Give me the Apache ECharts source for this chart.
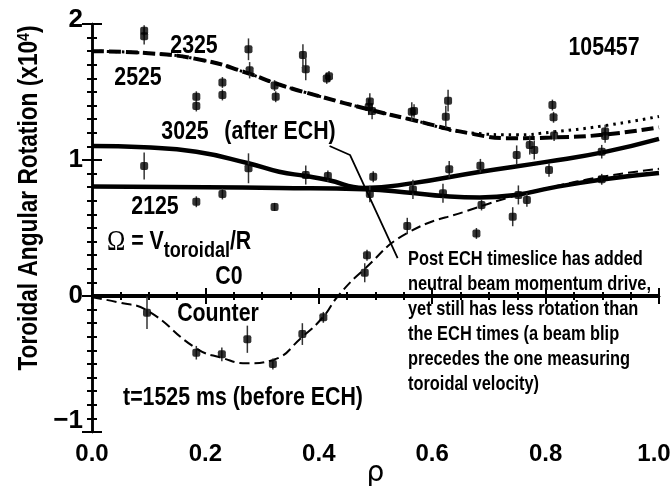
<!DOCTYPE html>
<html>
<head>
<meta charset="utf-8">
<script src="https://cdn.jsdelivr.net/npm/echarts@6/dist/echarts.min.js"></script>
<style>
  html, body { margin: 0; padding: 0; background: #fff; }
  #chart { width: 670px; height: 486px; }
</style>
</head>
<body>
<div id="chart"></div>
<script>
// measured points: [rho, omega (x10^4), error]
const pts2325_2525 = [
  [0.092, 1.95, 0.04], [0.092, 1.91, 0.06],
  [0.184, 1.465, 0.04], [0.184, 1.397, 0.04],
  [0.23, 1.57, 0.04], [0.23, 1.478, 0.04],
  [0.276, 1.814, 0.08], [0.278, 1.66, 0.06],
  [0.322, 1.547, 0.04], [0.324, 1.465, 0.04],
  [0.372, 1.772, 0.08], [0.377, 1.667, 0.08],
  [0.414, 1.60, 0.04], [0.418, 1.615, 0.04],
  [0.49, 1.43, 0.06], [0.488, 1.39, 0.06], [0.494, 1.36, 0.06],
  [0.564, 1.355, 0.07], [0.568, 1.36, 0.05],
  [0.628, 1.436, 0.08], [0.624, 1.318, 0.08],
  [0.772, 1.11, 0.07], [0.78, 1.074, 0.07],
  [0.812, 1.404, 0.04], [0.814, 1.314, 0.04], [0.815, 1.18, 0.04],
  [0.905, 1.21, 0.05], [0.905, 1.176, 0.05]
];
const pts3025 = [
  [0.092, 0.956, 0.1], [0.276, 0.939, 0.11], [0.377, 0.89, 0.07],
  [0.416, 0.882, 0.04], [0.496, 0.877, 0.04], [0.63, 0.932, 0.06],
  [0.685, 0.958, 0.05], [0.749, 1.037, 0.07], [0.806, 0.926, 0.05],
  [0.899, 1.061, 0.05]
];
const pts2125 = [
  [0.184, 0.693, 0.04], [0.23, 0.75, 0.04], [0.322, 0.655, 0.03],
  [0.49, 0.75, 0.06], [0.566, 0.784, 0.07], [0.619, 0.755, 0.07],
  [0.687, 0.669, 0.04], [0.752, 0.743, 0.07], [0.767, 0.706, 0.05],
  [0.899, 0.858, 0.04]
];
const pts1525 = [
  [0.097, -0.123, 0.12], [0.184, -0.417, 0.05], [0.229, -0.429, 0.05],
  [0.274, -0.318, 0.1], [0.319, -0.5, 0.04], [0.371, -0.28, 0.08],
  [0.408, -0.157, 0.04], [0.481, 0.171, 0.07], [0.485, 0.30, 0.04],
  [0.556, 0.515, 0.06], [0.678, 0.46, 0.04], [0.742, 0.583, 0.07]
];

// fitted profiles
const fit2525 = [
  [0, 1.80], [0.1, 1.785], [0.2, 1.73], [0.27, 1.645], [0.33, 1.555],
  [0.4, 1.47], [0.49, 1.37], [0.566, 1.294], [0.666, 1.196], [0.743, 1.16],
  [0.81, 1.165], [0.9, 1.185], [1.0, 1.24]
];
const fit2325 = [
  [0, 1.80], [0.1, 1.785], [0.2, 1.73], [0.27, 1.645], [0.33, 1.555],
  [0.4, 1.47], [0.49, 1.37], [0.566, 1.294], [0.666, 1.20], [0.75, 1.185],
  [0.81, 1.205], [0.9, 1.25], [1.0, 1.32]
];
const fit3025 = [
  [0, 1.103], [0.092, 1.093], [0.184, 1.06], [0.276, 0.976], [0.33, 0.914],
  [0.377, 0.882], [0.416, 0.853], [0.48, 0.795], [0.566, 0.83], [0.68, 0.91],
  [0.804, 0.988], [0.905, 1.06], [1.0, 1.155]
];
const fit2125 = [
  [0, 0.805], [0.2, 0.80], [0.33, 0.795], [0.48, 0.785], [0.566, 0.757],
  [0.62, 0.735], [0.684, 0.725], [0.75, 0.745], [0.81, 0.795], [0.9, 0.857],
  [1.0, 0.905]
];
const fit1525 = [
  [0, -0.01], [0.05, -0.05], [0.097, -0.105], [0.184, -0.385], [0.229, -0.455],
  [0.274, -0.495], [0.319, -0.47], [0.371, -0.30], [0.408, -0.152], [0.434, 0],
  [0.481, 0.20], [0.555, 0.46], [0.666, 0.632], [0.752, 0.743], [0.81, 0.80],
  [0.9, 0.877], [1.0, 0.935]
];
const zeroLine = [[0, 0], [1, 0]];
const pointerLine = [[0.419, 1.103], [0.455, 1.037], [0.539, 0.279]];

const noteLines = [
  "Post ECH timeslice has added",
  "neutral beam momentum drive,",
  "yet still has less rotation than",
  "the ECH times (a beam blip",
  "precedes the one measuring",
  "toroidal velocity)"
];

const FONT = '"Liberation Sans", Arial, sans-serif';
const NARROW = 0.82; // no narrow face installed, squeeze instead

const chart = echarts.init(document.getElementById("chart"));

function errBar(params, api) {
  const x = api.value(0);
  const y = api.value(1);
  const e = api.value(2);
  const p1 = api.coord([x, y + e]);
  const p2 = api.coord([x, y - e]);
  return {
    type: "line",
    shape: { x1: p1[0], y1: p1[1], x2: p2[0], y2: p2[1] },
    style: { stroke: "#333", lineWidth: 1.5 }
  };
}

function pointSeries(data) {
  return [
    {
      type: "custom",
      renderItem: errBar,
      data: data,
      encode: { x: 0, y: 1 },
      z: 3
    },
    {
      type: "scatter",
      data: data.map((d) => [d[0], d[1]]),
      symbol: "roundRect",
      symbolSize: 8,
      itemStyle: { color: "#000" },
      z: 4
    }
  ];
}

function curve(data, width, type) {
  return {
    type: "line",
    data: data,
    smooth: 0.5,
    showSymbol: false,
    lineStyle: { color: "#000", width: width, type: type },
    z: 2
  };
}

const baseAxisLine = { show: true, lineStyle: { color: "#000", width: 2.5 } };
const tickStyle = { color: "#000", width: 2 };

function textItem(txt, x, y, extra, sx) {
  return {
    type: "text",
    x: x,
    y: y,
    scaleX: sx || NARROW,
    z: 10,
    style: Object.assign(
      {
        text: txt,
        fontFamily: FONT,
        fontWeight: "bold",
        fontSize: 26,
        fill: "#000",
        align: "center",
        verticalAlign: "middle"
      },
      extra || {}
    )
  };
}

const option = {
  animation: false,
  grid: { left: 92, right: 11, top: 24, bottom: 54, outerBoundsMode: "none" },
  xAxis: [
    {
      type: "value",
      min: 0,
      max: 1,
      interval: 0.2,
      position: "bottom",
      axisLine: baseAxisLine,
      axisTick: { inside: true, length: 8, lineStyle: tickStyle },
      minorTick: { show: true, splitNumber: 4, length: 4, lineStyle: tickStyle },
      splitLine: { show: false },
      axisLabel: {
        color: "#000",
        fontFamily: FONT,
        fontWeight: "bold",
        fontSize: 24,
        margin: 10,
        formatter: (v) => (v === 1 ? "{r|1.0}" : v.toFixed(1)),
        rich: {
          r: { fontFamily: FONT, fontWeight: "bold", fontSize: 24, color: "#000", padding: [0, 10, 0, 0] }
        }
      },
      name: "ρ",
      nameLocation: "middle",
      nameGap: 28,
      nameMoveOverlap: false,
      nameTextStyle: { color: "#000", fontFamily: "DejaVu Sans", fontSize: 28 }
    },
    {
      type: "value",
      min: 0,
      max: 1,
      interval: 0.2,
      position: "top",
      axisLine: baseAxisLine,
      axisTick: { inside: true, length: 8, lineStyle: tickStyle },
      minorTick: { show: true, splitNumber: 4, length: 4, lineStyle: tickStyle },
      splitLine: { show: false },
      axisLabel: { show: false }
    }
  ],
  yAxis: [
    {
      type: "value",
      min: -1,
      max: 2,
      interval: 1,
      position: "left",
      axisLine: baseAxisLine,
      axisTick: { inside: true, length: 10, lineStyle: tickStyle },
      minorTick: { show: true, splitNumber: 10, length: 5, lineStyle: tickStyle },
      splitLine: { show: false },
      axisLabel: {
        color: "#000",
        fontFamily: FONT,
        fontWeight: "bold",
        fontSize: 26,
        margin: 9,
        formatter: (v) => {
          if (v === -1) return "{lo|−1}";
          if (v === 2) return "{hi|2}";
          return String(v);
        },
        rich: {
          lo: { fontFamily: FONT, fontWeight: "bold", fontSize: 26, color: "#000", padding: [0, 0, 22, 0] },
          hi: { fontFamily: FONT, fontWeight: "bold", fontSize: 26, color: "#000", padding: [0, 0, 8, 0] }
        }
      }
    },
    {
      type: "value",
      min: -1,
      max: 2,
      interval: 1,
      position: "right",
      axisLine: baseAxisLine,
      axisTick: { inside: true, length: 10, lineStyle: tickStyle },
      minorTick: { show: true, splitNumber: 10, length: 5, lineStyle: tickStyle },
      splitLine: { show: false },
      axisLabel: { show: false }
    }
  ],
  series: [
    curve(zeroLine, 4, "solid"),
    curve(fit2325, 3, [2.5, 5]),
    curve(fit2525, 4, [12, 5]),
    curve(fit3025, 4.5, "solid"),
    curve(fit2125, 4.5, "solid"),
    curve(fit1525, 2, [10, 5]),
    {
      type: "line",
      data: pointerLine,
      showSymbol: false,
      lineStyle: { color: "#000", width: 1.8 },
      z: 5
    },
    ...pointSeries(pts2325_2525),
    ...pointSeries(pts3025),
    ...pointSeries(pts2125),
    ...pointSeries(pts1525)
  ],
  graphic: [
    {
      type: "text",
      x: 30,
      y: 198,
      rotation: Math.PI / 2,
      scaleX: 0.84,
      z: 10,
      style: {
        text: "Toroidal Angular Rotation (x10{sup|4})",
        fontFamily: FONT,
        fontWeight: "bold",
        fontSize: 27,
        fill: "#000",
        align: "center",
        verticalAlign: "middle",
        rich: {
          sup: { fontFamily: FONT, fontWeight: "bold", fontSize: 17, fill: "#000", padding: [0, 0, 12, 0] }
        }
      }
    },
    textItem("2325", 194, 46),
    textItem("2525", 138, 78),
    textItem("3025", 185, 132),
    textItem("(after ECH)", 280, 132),
    textItem("2125", 155, 207),
    {
      type: "text",
      x: 107,
      y: 242,
      scaleX: NARROW,
      z: 10,
      style: {
        text: "{o|Ω} = V{s|toroidal}/R",
        fontFamily: FONT,
        fontWeight: "bold",
        fontSize: 26,
        fill: "#000",
        align: "left",
        verticalAlign: "middle",
        rich: {
          o: { fontFamily: "Liberation Serif", fontWeight: "normal", fontSize: 30, fill: "#000" },
          s: { fontFamily: FONT, fontWeight: "bold", fontSize: 22, fill: "#000", padding: [18, 0, 0, 0] }
        }
      }
    },
    textItem("C0", 229, 277),
    textItem("Counter", 218, 314),
    textItem("t=1525 ms (before ECH)", 243, 398),
    textItem("105457", 604, 48),
    textItem(noteLines.join("\n"), 408, 247, {
      align: "left",
      verticalAlign: "top",
      fontSize: 21,
      lineHeight: 25
    }, 0.78)
  ]
};

chart.setOption(option);
</script>
</body>
</html>
